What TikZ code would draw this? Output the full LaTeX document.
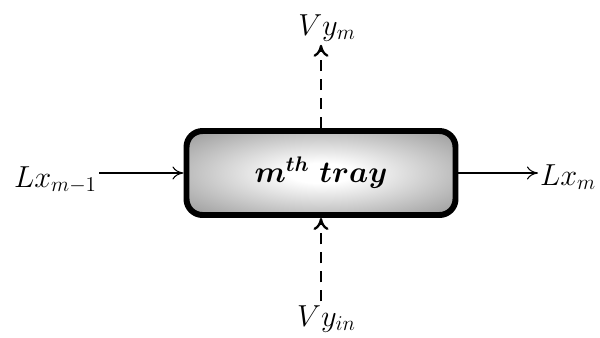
\documentclass[tikz,border=0pt]{standalone}
\usepackage{amsmath,bm}
\usepackage{tikz}
\usetikzlibrary{arrows.meta,positioning,calc}
\pgfdeclareradialshading{trayshade}{\pgfpoint{0bp}{0bp}}{%
  color(0bp)=(white); color(6bp)=(white); color(50bp)=(black!60)}
\tikzset{
  tray/.style={draw=black,line width=3.4pt,rounded corners=0.32cm,
    shading=trayshade,
    minimum width=5.38cm,minimum height=1.68cm,font=\fontsize{18.5}{22}\selectfont},
  lbl/.style={inner sep=1pt,font=\fontsize{18.5}{22}\selectfont},
  flow/.style={-{To[length=2.2mm,width=2.6mm]},draw=black,line width=0.6pt},
  vapour/.style={-{To[length=2.4mm,width=3mm]},draw=black,line width=1.3pt,
    dash pattern=on 2.2mm off 1.6mm}
}
\begin{document}
\begin{tikzpicture}
  \useasboundingbox (0,0) rectangle (12,6.74);
  \node[tray] (box) at (6.42,3.28) {$\bm{m^{th}\ tray}$};
  \node[lbl,anchor=base east] (lin) at (1.98,3.0) {$Lx_{m-1}$};
  \node[lbl,anchor=base west] (lout) at (10.76,3.04) {$Lx_m$};
  \node[lbl,anchor=base,inner sep=2pt] (vout) at (6.54,6.04) {$Vy_m$};
  \node[lbl,anchor=base,inner sep=2pt] (vin) at (6.53,0.22) {$Vy_{in}$};
  \draw[flow] (lin.east |- box.west) -- (box.west);
  \draw[flow] (box.east) -- (lout.west |- box.east);
  \draw[vapour] (box.north) -- (box.north |- vout.south);
  \draw[vapour] (box.south |- vin.north) -- (box.south);
\end{tikzpicture}
\end{document}
